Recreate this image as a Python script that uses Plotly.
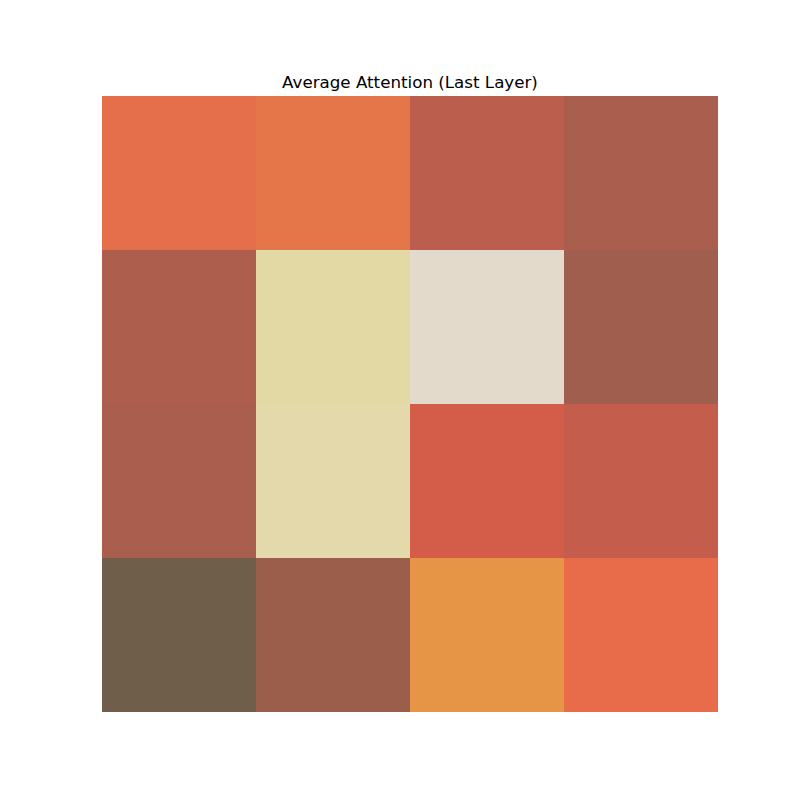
import plotly.graph_objects as go

# attention values (rows top to bottom), estimated relative levels
row_labels = ["0", "1", "2", "3"]
col_labels = ["0", "1", "2", "3"]
values = [
    [0.50, 0.55, 0.24, 0.16],
    [0.18, 0.85, 1.00, 0.13],
    [0.16, 0.88, 0.38, 0.30],
    [0.00, 0.10, 0.65, 0.47],
]

scale_stops = [0.00, 0.10, 0.13, 0.16, 0.18, 0.24, 0.30, 0.38, 0.47, 0.50, 0.55, 0.65, 0.85, 0.88, 1.00]
scale_colors = ["#6e5e4a", "#9a5e4a", "#a05e4e", "#aa5e4e", "#ae5e4c", "#bb5e4d", "#c55d4d",
                "#d45d4a", "#e86c4a", "#e56e4b", "#e5764a", "#e69446", "#e2d9a4", "#e3d9ab", "#e4dacb"]
colorscale = [[s, c] for s, c in zip(scale_stops, scale_colors)]

fig = go.Figure(go.Heatmap(
    z=values, x=col_labels, y=row_labels,
    colorscale=colorscale, zmin=0, zmax=1, showscale=False,
))

fig.update_layout(
    width=800, height=800,
    margin=dict(l=94, r=90, t=88, b=96),
    paper_bgcolor="white", plot_bgcolor="white",
    font=dict(family="DejaVu Sans", color="black"),
    title=dict(text="Average Attention (Last Layer)", x=402/800, xanchor="center",
               y=1 - 74/800, yanchor="middle", font=dict(size=16.7, family="DejaVu Sans")),
    xaxis=dict(visible=False, constrain="domain"),
    yaxis=dict(visible=False, autorange="reversed"),
)

fig.write_html("out.html")
